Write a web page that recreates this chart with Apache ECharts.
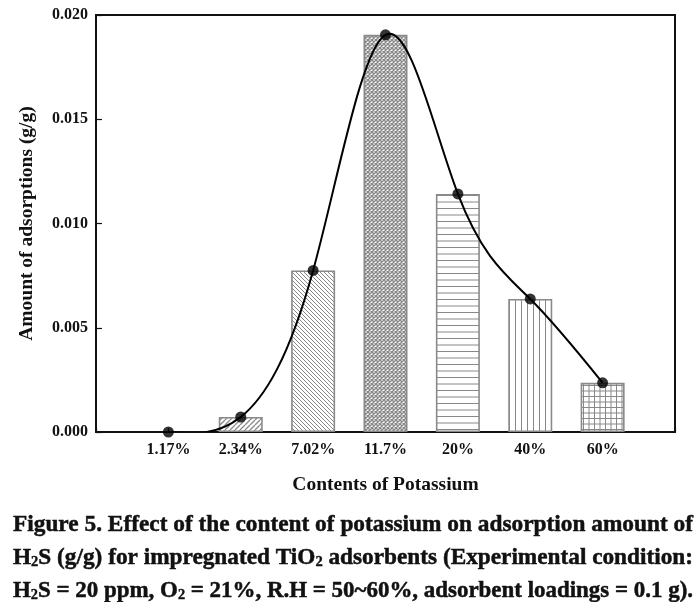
<!DOCTYPE html>
<html><head><meta charset="utf-8">
<script src="https://cdn.jsdelivr.net/npm/echarts@6/dist/echarts.min.js"></script>
<style>html,body{margin:0;padding:0;background:#fff}#c{width:700px;height:602px}</style>
</head><body><div id="c"></div>
<script>
// ---- data ----
const categories = ['1.17%', '2.34%', '7.02%', '11.7%', '20%', '40%', '60%'];
const amounts = [0, 0.00072, 0.00775, 0.01905, 0.01142, 0.00638, 0.00236];
const yMin = 0, yMax = 0.020, yStep = 0.005;
const xAxisTitle = 'Contents of Potassium';
const yAxisTitle = 'Amount of adsorptions (g/g)';
const captionLines = [
  [['Figure 5. Effect of the content of potassium on adsorption amount of', 'n']],
  [['H', 'n'], ['2', 's'], ['S (g/g) for impregnated TiO', 'n'], ['2', 's'], [' adsorbents (Experimental condition:', 'n']],
  [['H', 'n'], ['2', 's'], ['S = 20 ppm, O', 'n'], ['2', 's'], [' = 21%, R.H = 50~60%, adsorbent loadings = 0.1 g).', 'n']]
];

// ---- styles ----
const FONT = '"Liberation Serif", "Times New Roman", serif';
const HATCH = '#888888';
function makePattern(type) {
  const c = document.createElement('canvas');
  let w = 6, h = 6;
  if (type === 'fwd') { w = h = 5; }
  if (type === 'back') { w = h = 4; }
  if (type === 'cross') { w = h = 4; }
  if (type === 'horiz') { w = 4; h = 13; }
  if (type === 'vert') { w = 6; h = 4; }
  if (type === 'grid') { w = 11; h = 11; }
  c.width = w; c.height = h;
  const g = c.getContext('2d');
  g.fillStyle = '#fff'; g.fillRect(0, 0, w, h);
  g.strokeStyle = HATCH; g.lineWidth = type === 'cross' ? 1.4 : (type === 'fwd' ? 1.3 : 1);
  g.beginPath();
  if (type === 'fwd' || type === 'cross') {
    for (let k = -1; k <= 1; k++) { g.moveTo(k * w, h); g.lineTo(k * w + w, 0); }
  }
  if (type === 'back' || type === 'cross') {
    for (let k = -1; k <= 1; k++) { g.moveTo(k * w, 0); g.lineTo(k * w + w, h); }
  }
  if (type === 'horiz') { g.moveTo(0, 0.5); g.lineTo(w, 0.5); g.moveTo(0, 7); g.lineTo(w, 7); }
  if (type === 'vert') { g.moveTo(w - 0.5, 0); g.lineTo(w - 0.5, h); }
  if (type === 'grid') {
    g.moveTo(0, 0.5); g.lineTo(w, 0.5); g.moveTo(0, 6); g.lineTo(w, 6);
    g.moveTo(0.5, 0); g.lineTo(0.5, h); g.moveTo(6, 0); g.lineTo(6, h);
  }
  g.stroke();
  return { image: c, repeat: 'repeat' };
}
const patternTypes = ['fwd', 'fwd', 'back', 'cross', 'horiz', 'vert', 'grid'];

const barData = amounts.map((v, i) => ({
  value: [i + 1, v],
  itemStyle: { color: makePattern(patternTypes[i]), borderColor: '#8a8a8a', borderWidth: v > 0 ? 1.6 : 0 }
}));
const pointData = amounts.map((v, i) => [i + 1, v]);

// natural cubic spline through the points, drawn as bezier path via the axes' scales
function splinePath(api) {
  const n = pointData.length;
  const xs = pointData.map(p => p[0]), ys = pointData.map(p => p[1]);
  const M = new Array(n).fill(0);
  if (n > 2) {
    const a = [], b = [], c = [], d = [];
    for (let i = 1; i < n - 1; i++) {
      const h0 = xs[i] - xs[i - 1], h1 = xs[i + 1] - xs[i];
      a.push(h0); b.push(2 * (h0 + h1)); c.push(h1);
      d.push(6 * ((ys[i + 1] - ys[i]) / h1 - (ys[i] - ys[i - 1]) / h0));
    }
    const m = b.length;
    for (let i = 1; i < m; i++) { const w = a[i] / b[i - 1]; b[i] -= w * c[i - 1]; d[i] -= w * d[i - 1]; }
    const sol = new Array(m);
    sol[m - 1] = d[m - 1] / b[m - 1];
    for (let i = m - 2; i >= 0; i--) sol[i] = (d[i] - c[i] * sol[i + 1]) / b[i];
    for (let i = 0; i < m; i++) M[i + 1] = sol[i];
  }
  const p0 = api.coord([xs[0], ys[0]]);
  let path = 'M' + p0[0] + ' ' + p0[1];
  for (let i = 0; i < n - 1; i++) {
    const h = xs[i + 1] - xs[i];
    const s = (ys[i + 1] - ys[i]) / h;
    const d0 = s - h * (2 * M[i] + M[i + 1]) / 6;
    const d1 = s + h * (M[i] + 2 * M[i + 1]) / 6;
    const c1 = api.coord([xs[i] + h / 3, ys[i] + d0 * h / 3]);
    const c2 = api.coord([xs[i + 1] - h / 3, ys[i + 1] - d1 * h / 3]);
    const e = api.coord([xs[i + 1], ys[i + 1]]);
    path += ' C' + c1[0] + ' ' + c1[1] + ' ' + c2[0] + ' ' + c2[1] + ' ' + e[0] + ' ' + e[1];
  }
  return path;
}

// ---- caption (rich text, fitted to width) ----
const mctx = document.createElement('canvas').getContext('2d');
const capSize = { n: 24, s: 15 };
function segWidth(t, k) { mctx.font = 'bold ' + capSize[k] + 'px ' + FONT; return mctx.measureText(t).width; }
const capLeft = 13, capWidth = 680, capY = [523, 556, 589];
const rich = {
  n: { fontFamily: FONT, fontWeight: 'bold', fontSize: capSize.n, lineHeight: 28, verticalAlign: 'bottom', fill: '#111',
       stroke: '#111', lineWidth: 0.5 },
  s: { fontFamily: FONT, fontWeight: 'bold', fontSize: capSize.s, lineHeight: 14, verticalAlign: 'bottom', fill: '#111',
       stroke: '#111', lineWidth: 0.4 }
};
const captionGraphics = captionLines.map((segs, li) => {
  const w = segs.reduce((a, s) => a + segWidth(s[0], s[1]), 0);
  return {
    type: 'text', x: capLeft, y: capY[li], scaleX: capWidth / w,
    style: { text: segs.map(s => '{' + s[1] + '|' + s[0] + '}').join(''), rich: rich, verticalAlign: 'middle', align: 'left' }
  };
});

const chart = echarts.init(document.getElementById('c'), null, { renderer: 'canvas' });
chart.setOption({
  animation: false,
  backgroundColor: '#fff',
  grid: { left: 96, right: 25, top: 15, bottom: 170, show: true, borderColor: '#111', borderWidth: 2 },
  xAxis: {
    type: 'value', min: 0, max: categories.length + 1, interval: 1,
    name: xAxisTitle, nameLocation: 'middle', nameGap: 43,
    nameTextStyle: { fontFamily: FONT, fontWeight: 'bold', fontSize: 19.5, color: '#111' },
    axisLine: { show: true, lineStyle: { color: '#111', width: 2 } },
    axisTick: { show: true, inside: true, length: 4, lineStyle: { color: '#111', width: 1.2 } },
    splitLine: { show: false },
    axisLabel: {
      margin: 10, fontFamily: FONT, fontWeight: 'bold', fontSize: 16, color: '#111',
      formatter: v => categories[v - 1] || ''
    }
  },
  yAxis: {
    type: 'value', min: yMin, max: yMax, interval: yStep,
    name: yAxisTitle, nameLocation: 'middle', nameGap: 59,
    nameTextStyle: { fontFamily: FONT, fontWeight: 'bold', fontSize: 19.5, color: '#111' },
    axisLine: { show: true, lineStyle: { color: '#111', width: 2 } },
    axisTick: { show: true, inside: true, length: 6, lineStyle: { color: '#111', width: 1.2 } },
    splitLine: { show: false },
    axisLabel: { margin: 8, fontFamily: FONT, fontWeight: 'bold', fontSize: 16, color: '#111', formatter: v => v.toFixed(3) }
  },
  series: [
    { type: 'bar', data: barData, barWidth: 44, z: 2 },
    { type: 'custom', data: pointData, clip: true, z: 3, encode: { x: 0, y: 1 },
      renderItem: (params, api) => {
        if (params.dataIndex !== 0) return null;
        return { type: 'path', shape: { pathData: splinePath(api) },
          style: { stroke: '#000', lineWidth: 2, fill: null } };
      } },
    { type: 'scatter', data: pointData, symbol: 'circle', symbolSize: 11,
      itemStyle: { color: '#000' }, z: 4 }
  ],
  graphic: captionGraphics
});
</script>
</body></html>
